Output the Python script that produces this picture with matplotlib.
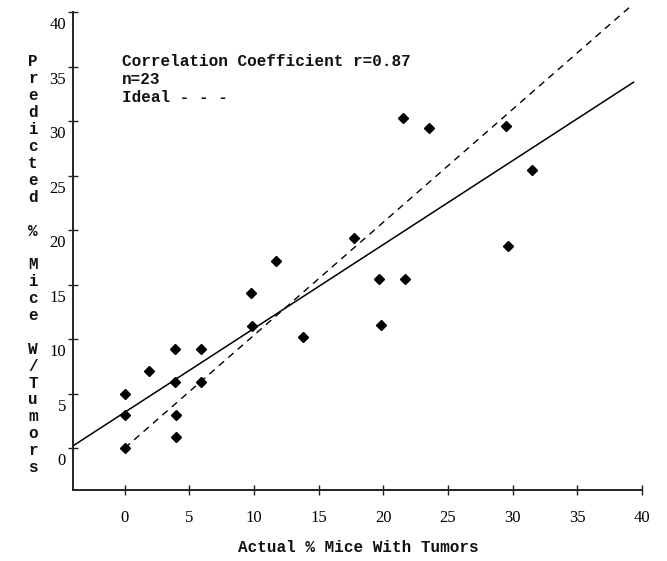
import matplotlib
matplotlib.use("Agg")
import matplotlib.pyplot as plt
from matplotlib.transforms import ScaledTranslation, blended_transform_factory

# ---- data ----
actual = [0.0, 0.0, 0.0, 1.9, 3.9, 3.9, 4.0, 4.0, 5.9, 5.9, 9.8, 9.85, 11.7,
          13.8, 17.7, 19.7, 19.8, 21.5, 21.7, 23.5, 29.5, 29.6, 31.5]
predicted = [5.0, 3.0, 0.0, 7.1, 9.1, 6.1, 3.0, 1.0, 9.1, 6.1, 14.2, 11.2, 17.2,
             10.2, 19.3, 15.5, 11.3, 30.3, 15.5, 29.4, 29.5, 18.5, 25.5]
fit_x = [-4.0, 39.4]
fit_y = [0.2, 33.6]
ideal_x = [0.0, 39.0]
ideal_y = [0.0, 40.4]
x_ticks = [0, 5, 10, 15, 20, 25, 30, 35, 40]
y_ticks = [0, 5, 10, 15, 20, 25, 30, 35, 40]
annot_lines = ["Correlation Coefficient r=0.87", "n=23", "Ideal - - -"]
x_label = "Actual % Mice With Tumors"
y_label = "Predicted % Mice W/Tumors"

W, H = 667, 561
fig = plt.figure(figsize=(W / 100, H / 100), dpi=100)
ax = fig.add_axes([73 / W, (H - 490) / H, 569 / W, 478 / H])
ax.set_xlim(-4, 40)
ax.set_ylim(-3.85, 40)

ax.plot(fit_x, fit_y, color="black", lw=1.1, solid_capstyle="butt", clip_on=False)
ax.plot(ideal_x, ideal_y, color="black", lw=1.0, dashes=(5, 4), clip_on=False)
ax.plot(actual, predicted, linestyle="none", marker="D", markersize=5.2,
        color="black", clip_on=False)

for s in ["top", "right"]:
    ax.spines[s].set_visible(False)
for s in ["left", "bottom"]:
    ax.spines[s].set_linewidth(1.4)
    ax.spines[s].set_color("#222222")

ax.set_xticks(x_ticks)
ax.set_yticks(y_ticks)
ax.tick_params(axis="both", direction="inout", length=7.5, width=1.0, color="#222222")
ax.set_xticklabels([str(t) for t in x_ticks], fontfamily="Liberation Serif", fontsize=12)
ax.tick_params(axis="x", pad=11)
ax.set_yticklabels([])

# y tick labels, printed slightly below their ticks as in the original
ytrans = blended_transform_factory(ax.transAxes, ax.transData) + \
    ScaledTranslation(-7 / 100, -13 / 100, fig.dpi_scale_trans)
for t in y_ticks:
    ax.text(0, t, str(t), transform=ytrans, ha="right", va="center",
            fontfamily="Liberation Serif", fontsize=12)

mono = dict(fontfamily="Liberation Mono", fontsize=11.5, fontweight="bold", color="#111111")
for i, line in enumerate(annot_lines):
    fig.text(122 / W, 1 - (62 + i * 17.5) / H, line, ha="left", va="center", **mono)

fig.text(358 / W, 1 - 548 / H, x_label, ha="center", va="center", **mono)

for i, ch in enumerate(y_label):
    if ch != " ":
        fig.text(33 / W, 1 - (62 + i * 16.9) / H, ch, ha="center", va="center", **mono)

fig.savefig("out.png", dpi=100)
